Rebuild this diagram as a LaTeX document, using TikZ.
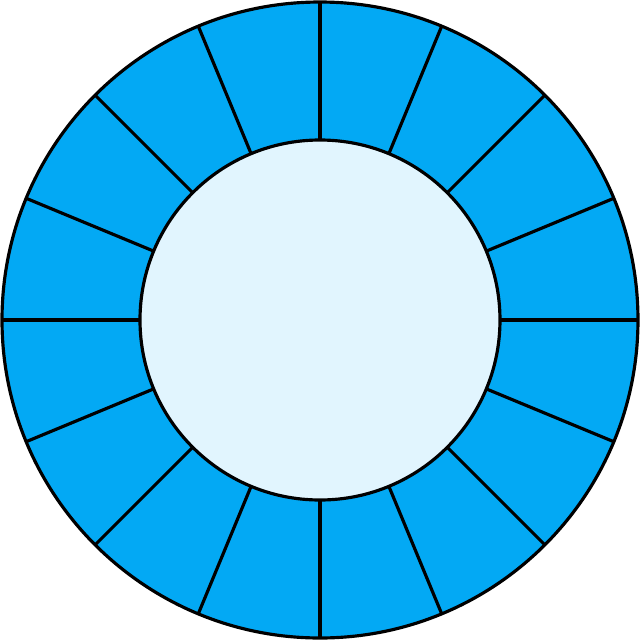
\documentclass[tikz,border=0pt]{standalone}
\usepackage{tikz}
\usetikzlibrary{calc}
\definecolor{anel}{HTML}{03A9F4}
\definecolor{miolo}{HTML}{E1F5FE}

\begin{document}
\begin{tikzpicture}[line width=0.9pt]
  \useasboundingbox (-3.2,-3.2) rectangle (3.2,3.2);
  % ---------- anel externo ----------
  \coordinate (centro) at (0,0);
  \draw[fill=anel] (centro) circle (3.18);
  % ---------- raios (16 setores) ----------
  \foreach \a in {0,22.5,...,337.5}
    \draw ($(centro)+(\a:1.75)$) -- ($(centro)+(\a:3.18)$);
  % ---------- disco interno ----------
  \draw[fill=miolo] (centro) circle (1.8);
\end{tikzpicture}
\end{document}
